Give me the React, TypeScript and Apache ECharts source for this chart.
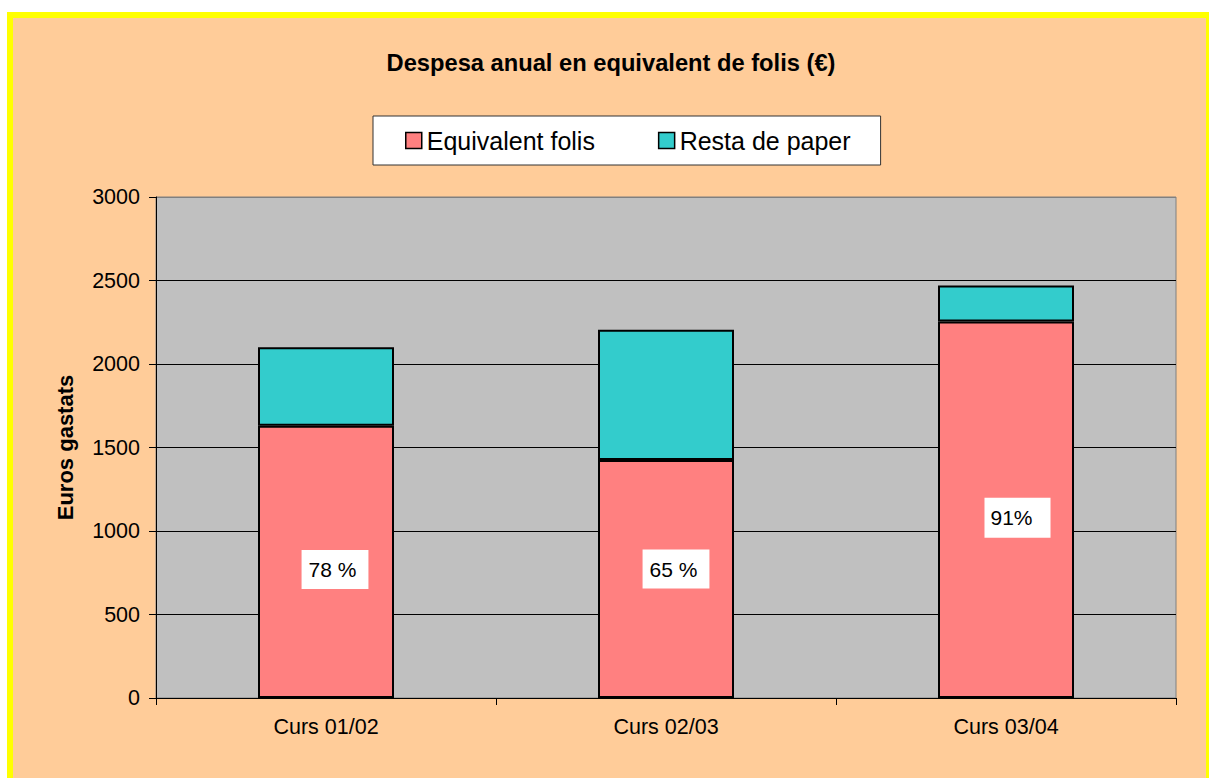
import React, { useEffect, useRef } from 'react';
import * as echarts from 'echarts';

const categories = ['Curs 01/02', 'Curs 02/03', 'Curs 03/04'];
const equivalentFolis = [1630, 1425, 2255];
const restaPaper = [470, 780, 215];
const pctLabels = ['78 %', '65 %', '91%'];
const seriesNames = ['Equivalent folis', 'Resta de paper'];
const titleText = 'Despesa anual en equivalent de folis (€)';
const yAxisName = 'Euros gastats';

// label box styling (positions/sizes only)
const labelOffsets = [[9, 7.5], [10, -10], [11.5, 8]];
const labelPaddings = [[3, 12, 12, 7], [3, 12, 12, 7], [3, 18, 13, 6]];

const FONT = '"Liberation Sans", Arial, sans-serif';

export default function App() {
  const ref = useRef<HTMLDivElement>(null);

  useEffect(() => {
    if (!ref.current) return;
    const chart = echarts.init(ref.current, undefined, { renderer: 'svg' });
    chart.setOption({
      animation: false,
      textStyle: { fontFamily: FONT, color: '#000' },
      title: {
        text: titleText,
        left: 606,
        top: 46,
        textAlign: 'center',
        textStyle: { fontFamily: FONT, fontSize: 23.7, fontWeight: 'bold', color: '#000' },
      },
      legend: {
        left: 373,
        top: 116,
        padding: [12, 30, 12, 32],
        itemGap: 63,
        itemWidth: 16,
        itemHeight: 16,
        backgroundColor: '#ffffff',
        borderColor: '#333',
        borderWidth: 1,
        borderRadius: 0,
        icon: 'rect',
        itemStyle: { borderColor: '#000', borderWidth: 1.5 },
        textStyle: { fontFamily: FONT, fontSize: 25, lineHeight: 24, color: '#000' },
        data: seriesNames,
      },
      grid: {
        left: 156,
        top: 197,
        right: 33,
        bottom: 80,
        show: true,
        backgroundColor: '#C0C0C0',
        borderColor: '#808080',
        borderWidth: 1,
        containLabel: false,
      },
      xAxis: {
        type: 'category',
        data: categories,
        boundaryGap: true,
        axisLine: { show: true, lineStyle: { color: '#000', width: 1 } },
        axisTick: { show: true, length: 7, lineStyle: { color: '#000' } },
        axisLabel: { fontFamily: FONT, fontSize: 21.5, color: '#000', margin: 18 },
        splitLine: { show: false },
      },
      yAxis: {
        type: 'value',
        min: 0,
        max: 3000,
        interval: 500,
        name: yAxisName,
        nameLocation: 'middle',
        nameGap: 80,
        nameTextStyle: { fontFamily: FONT, fontSize: 22, fontWeight: 'bold', color: '#000' },
        axisLine: { show: true, lineStyle: { color: '#000', width: 1 } },
        axisTick: { show: true, length: 7, lineStyle: { color: '#000' } },
        axisLabel: {
          fontFamily: FONT,
          fontSize: 21.5,
          color: '#000',
          margin: 16,
          formatter: (v: number) => String(v),
        },
        splitLine: {
          show: true,
          lineStyle: { color: ['#000', '#000', '#000', '#000', '#000', '#000', '#808080'], width: 1 },
        },
      },
      series: [
        {
          name: seriesNames[0],
          type: 'bar',
          stack: 'total',
          barWidth: '40%',
          itemStyle: { color: '#FF8080', borderColor: '#000', borderWidth: 2 },
          label: {
            show: true,
            position: 'inside',
            backgroundColor: '#ffffff',
            color: '#000',
            fontFamily: FONT,
            fontSize: 21,
            lineHeight: 24,
          },
          data: equivalentFolis.map((v, i) => ({
            value: v,
            label: {
              formatter: pctLabels[i],
              offset: labelOffsets[i],
              padding: labelPaddings[i],
            },
          })),
        },
        {
          name: seriesNames[1],
          type: 'bar',
          stack: 'total',
          barWidth: '40%',
          itemStyle: { color: '#33CCCC', borderColor: '#000', borderWidth: 2 },
          data: restaPaper,
        },
      ],
    });
    return () => chart.dispose();
  }, []);

  return (
    <>
      <div
        style={{
          position: 'fixed',
          left: 7,
          top: 12,
          width: 1205,
          height: 790,
          boxSizing: 'border-box',
          border: '6px solid #FFFF00',
          background: '#FFCC99',
        }}
      />
      <div
        ref={ref}
        style={{ position: 'fixed', left: 0, top: 0, width: 1209, height: 778 }}
      />
    </>
  );
}
